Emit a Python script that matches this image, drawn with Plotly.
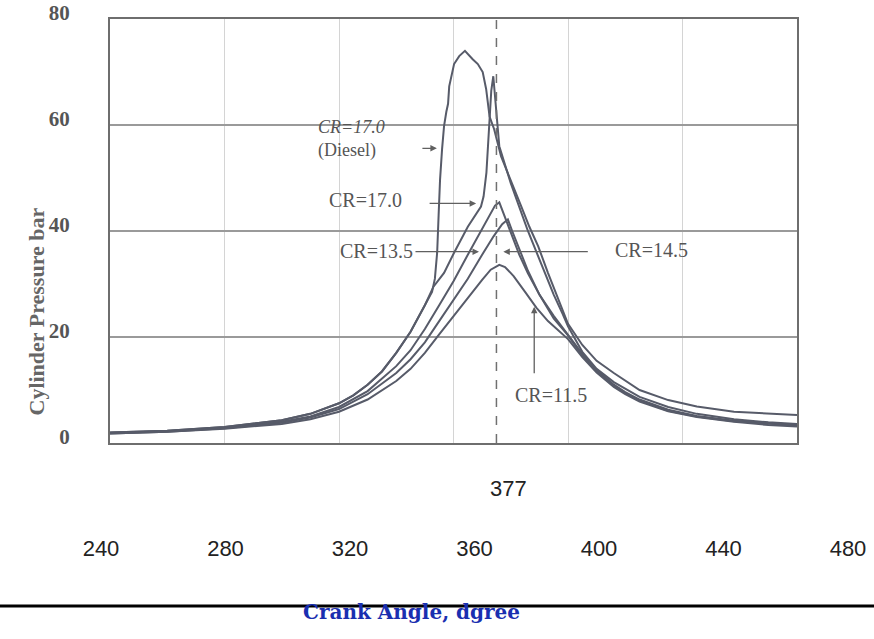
import plotly.graph_objects as go

# ---------------- data ----------------
X_TICKS = [240, 280, 320, 360, 400, 440, 480]
Y_TICKS = [0, 20, 40, 60, 80]
DASH_ANGLE = 375          # dashed reference line position
DASH_LABEL = "377"

diesel_angle = [240, 260, 280, 300, 310, 320, 325, 330, 335, 340, 345, 350, 352.5, 353.5,
                354.3, 354.8, 355.3, 356, 356.7, 357.5, 358.1, 358.5, 360.2, 362, 364,
                366.7, 368.5, 370.2, 371.4, 372.6, 374.2, 376.6, 379, 381.2, 383.7, 386.5,
                389.6, 393, 396, 398, 400, 405, 410, 416, 420, 425, 435, 445, 458, 470, 480]
diesel_p = [2.0, 2.3, 3.0, 4.3, 5.5, 7.5, 9.0, 11.0, 13.5, 17.0, 21.0, 26.0, 28.5, 31.0,
            36.0, 43.0, 49.7, 55.4, 59.8, 62.5, 64.0, 67.3, 71.5, 73.0, 74.0,
            72.4, 71.5, 70.0, 66.8, 61.6, 59.2, 54.1, 51.0, 47.8, 44.6, 40.8,
            37.1, 32.1, 28.0, 25.0, 22.5, 18.5, 15.5, 13.2, 11.8, 10.0, 8.1, 6.9, 5.9, 5.5, 5.3]

cr17_angle = [240, 260, 280, 300, 310, 320, 325, 330, 335, 340, 345, 350, 353, 356.7, 360.2,
              365, 369.6, 370.5, 371.5, 372.2, 372.6, 373.2, 373.9, 374.5, 375.2, 376, 378,
              380, 383, 386, 389, 392, 395, 398, 400, 405, 410, 416, 420, 425, 435, 445,
              458, 470, 480]
cr17_p = [2.0, 2.3, 3.0, 4.3, 5.5, 7.5, 9.0, 11.0, 13.5, 17.0, 21.0, 26.0, 29.5, 32.1, 35.9,
          40.8, 44.6, 46.5, 51.0, 58.0, 63.0, 66.5, 69.2, 65.0, 60.0, 56.0, 52.5,
          49.0, 44.5, 40.0, 36.0, 32.0, 28.0, 24.5, 22.0, 17.2, 14.0, 11.5, 10.2, 8.7, 6.8, 5.5,
          4.5, 3.9, 3.6]

cr145_angle = [240, 260, 280, 300, 310, 320, 330, 340, 345, 350, 355, 360, 365, 369, 372,
               374.5, 376, 377.5, 380, 383, 386, 390, 395, 400, 405, 410, 416, 420, 425,
               435, 445, 458, 470, 480]
cr145_p = [1.9, 2.2, 2.9, 4.0, 5.0, 6.8, 9.8, 14.5, 17.5, 21.5, 26.0, 30.5, 35.5, 39.5, 42.5,
           44.8, 45.4, 43.3, 39.5, 35.5, 32.0, 28.0, 24.0, 20.5, 16.8, 13.8, 11.0, 9.6, 8.2,
           6.3, 5.1, 4.2, 3.7, 3.4]

cr135_angle = [240, 260, 280, 300, 310, 320, 330, 340, 345, 350, 355, 360, 365, 370, 374,
               377, 379, 380.5, 383, 386, 390, 395, 400, 405, 410, 416, 420, 425, 435, 445,
               458, 470, 480]
cr135_p = [1.8, 2.1, 2.8, 3.8, 4.8, 6.4, 9.2, 13.2, 15.8, 19.0, 23.0, 27.0, 31.0, 35.5, 39.0,
           41.3, 42.2, 40.0, 36.5, 32.5, 28.0, 23.5, 20.3, 16.5, 13.6, 10.8, 9.4, 8.0, 6.1, 5.0,
           4.1, 3.6, 3.3]

cr115_angle = [240, 260, 280, 300, 310, 320, 330, 340, 345, 350, 355, 360, 365, 370, 373,
               376, 378, 381, 385, 389, 393, 397, 400, 405, 410, 416, 420, 425, 435, 445,
               458, 470, 480]
cr115_p = [1.8, 2.1, 2.7, 3.6, 4.5, 5.9, 8.2, 11.7, 14.0, 17.0, 20.5, 24.0, 27.5, 30.8, 32.7,
           33.6, 33.2, 31.5, 28.5, 25.5, 23.0, 21.0, 19.6, 16.2, 13.3, 10.6, 9.2, 7.8, 6.0, 4.9,
           4.0, 3.4, 3.1]

# curve labels: (text, angle, pressure, size)
labels = [("<i>CR=17.0</i><br>(Diesel)", 311.8, 57.3, 18),
          ("CR=17.0", 329.4, 45.8, 20),
          ("CR=13.5", 333.2, 36.3, 20),
          ("CR=14.5", 429.2, 36.5, 20),
          ("CR=11.5", 394.2, 9.1, 20)]
# arrows: (tip angle, tip pressure, tail dx px, tail dy px)
arrows = [(354.2, 55.6, -16, 0),
          (367.9, 45.2, -48, 0),
          (368.9, 36.1, -65, 0),
          (377.4, 36.1, 86, 0),
          (388.2, 25.7, 0, 68)]

# ---------------- figure ----------------
W, H = 874, 639
LINE = "#575b69"
TXT = "#555555"

fig = go.Figure()
series = [(diesel_angle, diesel_p, "CR=17.0 (Diesel)"),
          (cr17_angle, cr17_p, "CR=17.0"),
          (cr145_angle, cr145_p, "CR=14.5"),
          (cr135_angle, cr135_p, "CR=13.5"),
          (cr115_angle, cr115_p, "CR=11.5")]
for xa, ya, nm in series:
    fig.add_trace(go.Scatter(x=xa, y=ya, mode="lines", name=nm,
                             line=dict(color=LINE, width=2), showlegend=False))

# invisible trace to carry the detached lower tick-label axis
fig.add_trace(go.Scatter(x=X_TICKS, y=[0] * len(X_TICKS), xaxis="x2", yaxis="y2",
                         mode="markers", marker=dict(opacity=0), hoverinfo="skip",
                         showlegend=False))

fig.add_shape(type="line", xref="x", yref="y domain", x0=DASH_ANGLE, x1=DASH_ANGLE,
              y0=0, y1=1, line=dict(color="#707070", width=1.5, dash="dash"))
fig.add_shape(type="line", xref="paper", yref="paper", x0=0, x1=1,
              y0=1 - 606 / H, y1=1 - 606 / H, line=dict(color="black", width=3))

for t, xa, ya, sz in labels:
    fig.add_annotation(x=xa, y=ya, xref="x", yref="y", showarrow=False, text=t,
                       xanchor="left" if "<br>" in t else "center", align="left",
                       font=dict(family="Liberation Serif", size=sz, color=TXT))
for xa, ya, dx, dy in arrows:
    fig.add_annotation(x=xa, y=ya, xref="x", yref="y", text="", showarrow=True,
                       ax=dx, ay=dy, arrowhead=2, arrowsize=1, arrowwidth=1.3,
                       arrowcolor="#606060")

fig.add_annotation(x=377, y=1 - 503 / H, xref="x", yref="paper", xshift=6,
                   text=DASH_LABEL, showarrow=False,
                   font=dict(family="Liberation Sans", size=22, color="#222"))
fig.add_annotation(x=22 / W, y=1 - 312 / H, xref="paper", yref="paper",
                   text="<b>Cylinder Pressure bar</b>", textangle=-90, showarrow=False,
                   font=dict(family="Liberation Serif", size=22, color="#666"))
fig.add_annotation(x=411 / W, y=1 - 626 / H, xref="paper", yref="paper",
                   text="<b>Crank Angle, dgree</b>", showarrow=False,
                   font=dict(family="DejaVu Serif", size=20, color="#1a2fb0"))

fig.update_layout(
    template="none",
    width=W, height=H, margin=dict(l=0, r=0, t=0, b=0, pad=0), autosize=False,
    paper_bgcolor="white", plot_bgcolor="white",
    xaxis=dict(domain=[110 / W, 797 / W], range=[240, 480], tickvals=X_TICKS,
               showticklabels=False, showgrid=True, gridcolor="#d4d4d4", gridwidth=1,
               showline=True, mirror=True, linecolor="#6e6e6e", linewidth=2,
               zeroline=False, ticks="", automargin=False),
    yaxis=dict(domain=[1 - 443 / H, 1 - 19 / H], range=[0, 80], tickvals=Y_TICKS,
               showgrid=True, gridcolor="#9a9a9a", gridwidth=1.5,
               showline=True, mirror=True, linecolor="#6e6e6e", linewidth=2,
               zeroline=False, ticks="outside", ticklen=34, tickcolor="rgba(0,0,0,0)",
               ticklabelshift=-6,
               tickfont=dict(family="Liberation Serif", size=21, color=TXT, weight="bold"),
               automargin=False),
    xaxis2=dict(domain=[101 / W, 848 / W], range=[240, 480], tickvals=X_TICKS,
                anchor="y2", showgrid=False, showline=False, zeroline=False, ticks="",
                tickfont=dict(family="Liberation Sans", size=22, color="#222"),
                automargin=False),
    yaxis2=dict(domain=[1 - 533 / H, 1 - 528 / H], anchor="x2", visible=False,
                automargin=False),
)

fig.write_html("out.html")
